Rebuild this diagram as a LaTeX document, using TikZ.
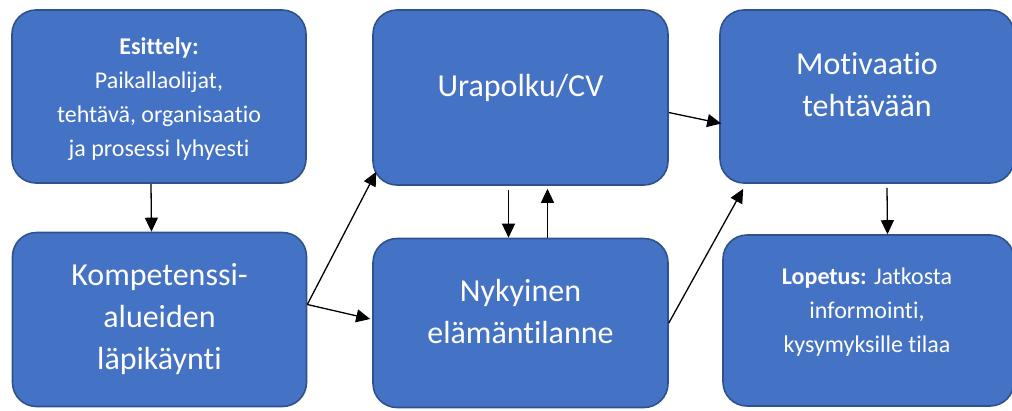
\documentclass[tikz,border=0pt]{standalone}
\usepackage{fontspec}
\setmainfont[Ligatures=NoCommon]{Carlito}
\usetikzlibrary{arrows.meta,calc}
\definecolor{boxfill}{HTML}{4472C4}
\definecolor{boxline}{HTML}{2F528F}
\begin{document}
\begin{tikzpicture}[x=1pt,y=-1pt,
  card/.style={draw=boxline,line width=1.6pt,fill=boxfill,rounded corners=24pt,
    inner sep=0pt,text=white,align=center},
  small/.style={font=\fontsize{24}{34}\selectfont},
  big/.style={font=\fontsize{32}{42}\selectfont},
  link/.style={line width=1.3pt,-{Triangle[length=14pt,width=13pt]}}]
\useasboundingbox (0,0) rectangle (1012,410);
% boxes
\node[card,minimum width=294pt,minimum height=173pt] (esit) at (159,96.5) {};
\node[card,minimum width=294pt,minimum height=174pt] (komp) at (159.5,319.5) {};
\node[card,minimum width=295pt,minimum height=175pt] (ura) at (520.5,97.5) {};
\node[card,minimum width=295pt,minimum height=169pt] (nyky) at (520.5,323) {};
\node[card,minimum width=294pt,minimum height=173pt] (moti) at (867,96.5) {};
\node[card,minimum width=291pt,minimum height=171pt] (lope) at (868.5,320.5) {};
% texts
\node[small,text=white,align=center] (t1) at (159,99)
  {\textbf{Esittely:}\\Paikallaolijat,\\tehtävä, organisaatio\\ja prosessi lyhyesti};
\node[big,text=white,align=center] (t2) at (159.5,319)
  {Kompetenssi-\\alueiden\\läpikäynti};
\node[big,text=white] (t3) at (520.5,88) {Urapolku/CV};
\node[big,text=white,align=center] (t4) at (520.5,312)
  {Nykyinen\\elämäntilanne};
\node[big,text=white,align=center] (t5) at (867,85)
  {Motivaatio\\tehtävään};
\node[small,text=white,align=center] (t6) at (867,312)
  {\textbf{Lopetus:} Jatkosta\\informointi,\\kysymyksille tilaa};
% connectors
\draw[link] ([xshift=-8pt]esit.south) -- ([xshift=-8pt]komp.north);
\draw[link] ([yshift=15pt]komp.east) -- ($(ura.south west)+(4,-14)$);
\draw[link] ([yshift=15pt]komp.east) -- ($(nyky.west)+(-2,-4)$);
\draw[link] ([xshift=-12pt,yshift=-4pt]ura.south) -- ([xshift=-12pt]nyky.north);
\draw[link] ([xshift=27pt]nyky.north) -- ([xshift=27pt,yshift=-3pt]ura.south);
\draw[link] ($(ura.east)+(0,15)$) -- ($(moti.west)+(2,27)$);
\draw[link] (nyky.east) -- ($(moti.south west)+(24,5)$);
\draw[link] ([xshift=20pt,yshift=-4pt]moti.south) -- ([xshift=19pt]lope.north);
\end{tikzpicture}
\end{document}
